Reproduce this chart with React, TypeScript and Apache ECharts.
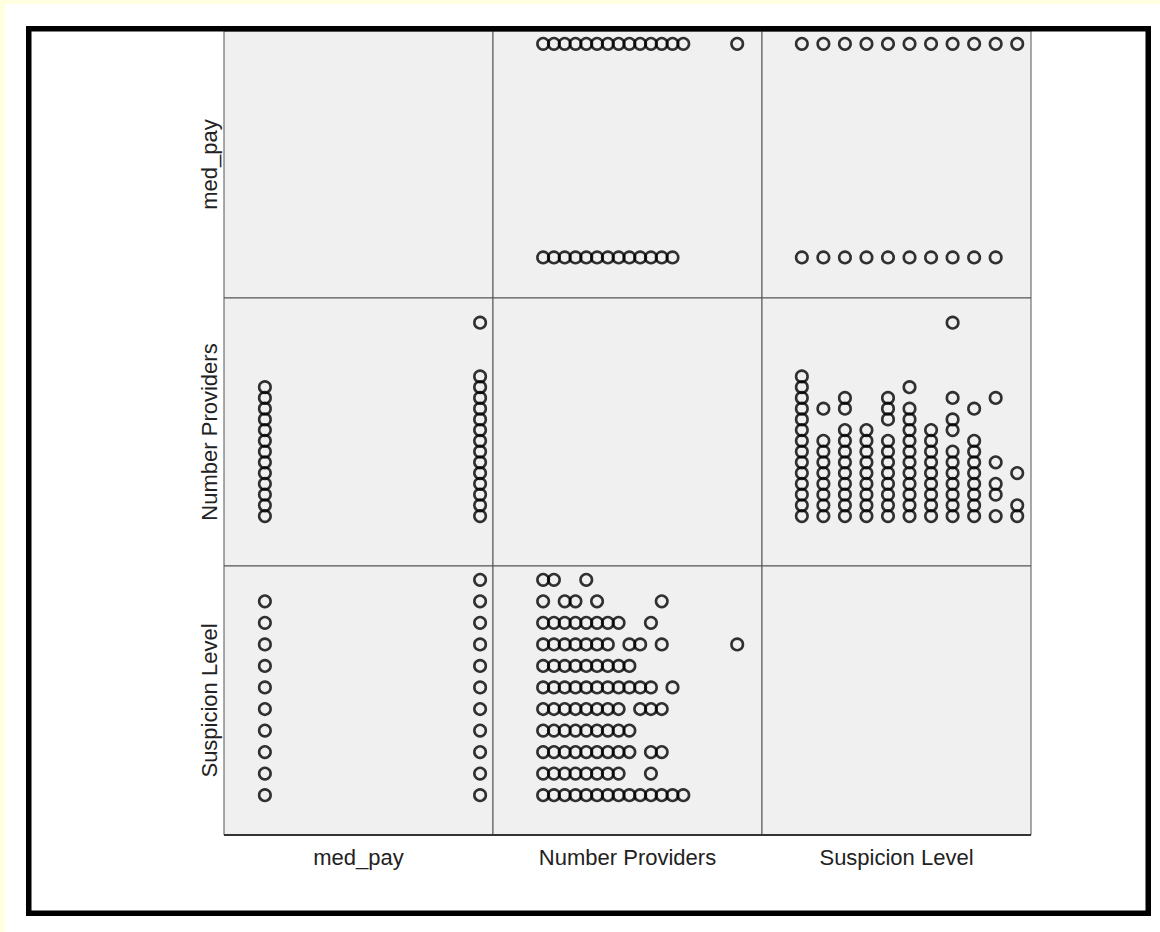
import React, { useEffect, useRef } from "react";
import * as echarts from "echarts";

// ---- Data (unique observed value combinations read from the matrix) ----
const variableNames = ["med_pay", "Number Providers", "Suspicion Level"];

const medPayLevels = [0, 1];
const providersMedPay0 = [1, 2, 3, 4, 5, 6, 7, 8, 9, 10, 11, 12, 13];
const providersMedPay1 = [1, 2, 3, 4, 5, 6, 7, 8, 9, 10, 11, 12, 13, 14, 19];
const suspicionMedPay0 = [0, 1, 2, 3, 4, 5, 6, 7, 8, 9];
const suspicionMedPay1 = [0, 1, 2, 3, 4, 5, 6, 7, 8, 9, 10];

const suspicionLevels = [0, 1, 2, 3, 4, 5, 6, 7, 8, 9, 10];
const providersBySuspicion = [
  [1, 2, 3, 4, 5, 6, 7, 8, 9, 10, 11, 12, 13, 14],
  [1, 2, 3, 4, 5, 6, 7, 8, 11],
  [1, 2, 3, 4, 5, 6, 7, 8, 9, 11, 12],
  [1, 2, 3, 4, 5, 6, 7, 8, 9],
  [1, 2, 3, 4, 5, 6, 7, 8, 10, 11, 12],
  [1, 2, 3, 4, 5, 6, 7, 8, 9, 10, 11, 13],
  [1, 2, 3, 4, 5, 6, 7, 8, 9],
  [1, 2, 3, 4, 5, 6, 7, 9, 10, 12, 19],
  [1, 2, 3, 4, 5, 6, 7, 8, 11],
  [1, 3, 4, 6, 12],
  [1, 2, 5],
];

// ---- Pairs built from the arrays ----
const providersByMedPay = [providersMedPay0, providersMedPay1];
const suspicionByMedPay = [suspicionMedPay0, suspicionMedPay1];

const pairsMedPayProviders: number[][] = [];
medPayLevels.forEach((m, i) => providersByMedPay[i].forEach((p) => pairsMedPayProviders.push([m, p])));
const pairsMedPaySuspicion: number[][] = [];
medPayLevels.forEach((m, i) => suspicionByMedPay[i].forEach((s) => pairsMedPaySuspicion.push([m, s])));
const pairsSuspicionProviders: number[][] = [];
suspicionLevels.forEach((s, i) => providersBySuspicion[i].forEach((p) => pairsSuspicionProviders.push([s, p])));

function getPairs(xVar: number, yVar: number): number[][] {
  const swap = (arr: number[][]) => arr.map((d) => [d[1], d[0]]);
  if (xVar === 0 && yVar === 1) return pairsMedPayProviders;
  if (xVar === 1 && yVar === 0) return swap(pairsMedPayProviders);
  if (xVar === 0 && yVar === 2) return pairsMedPaySuspicion;
  if (xVar === 2 && yVar === 0) return swap(pairsMedPaySuspicion);
  if (xVar === 2 && yVar === 1) return pairsSuspicionProviders;
  if (xVar === 1 && yVar === 2) return swap(pairsSuspicionProviders);
  return [];
}

// axis ranges per variable (for positioning)
const axisRanges = [
  { min: -0.19, max: 1.06 },
  { min: -3.65, max: 21.3 },
  { min: -1.85, max: 10.64 },
];

// ---- Layout ----
const colLefts = [224, 493, 762];
const colWidth = 269;
const rowTops = [31, 298, 566];
const rowHeights = [267, 268, 269];
const labelFont = '22px "Liberation Sans", Arial, sans-serif';

function buildOption() {
  const grid: any[] = [];
  const xAxis: any[] = [];
  const yAxis: any[] = [];
  const series: any[] = [];
  for (let r = 0; r < 3; r++) {
    for (let c = 0; c < 3; c++) {
      const idx = r * 3 + c;
      grid.push({
        left: colLefts[c],
        top: rowTops[r],
        width: colWidth,
        height: rowHeights[r],
        show: true,
        backgroundColor: "#f0f0f0",
        borderColor: "#555",
        borderWidth: 1,
      });
      xAxis.push({ type: "value", gridIndex: idx, min: axisRanges[c].min, max: axisRanges[c].max, show: false });
      yAxis.push({ type: "value", gridIndex: idx, min: axisRanges[r].min, max: axisRanges[r].max, show: false });
      if (r !== c) {
        series.push({
          type: "scatter",
          xAxisIndex: idx,
          yAxisIndex: idx,
          data: getPairs(c, r),
          symbol: "circle",
          symbolSize: 11.5,
          silent: true,
          itemStyle: { color: "rgba(0,0,0,0)", borderColor: "#000", borderWidth: 2.6 },
          emphasis: { disabled: true },
        });
      }
    }
  }

  const graphic: any[] = [
    { type: "rect", shape: { x: 0, y: 0, width: 1160, height: 4 }, style: { fill: "#ffffe0" }, z: 1 },
    { type: "rect", shape: { x: 0, y: 0, width: 5, height: 932 }, style: { fill: "#ffffe0" }, z: 1 },
    {
      type: "line",
      shape: { x1: 224, y1: 835, x2: 1031, y2: 835 },
      style: { stroke: "#333", lineWidth: 2 },
      z: 50,
    },
    {
      type: "rect",
      shape: { x: 28.75, y: 28.75, width: 1119.5, height: 884.5 },
      style: { fill: "none", stroke: "#000", lineWidth: 5.5 },
      z: 100,
    },
  ];
  variableNames.forEach((name, i) => {
    graphic.push({
      type: "text",
      x: colLefts[i] + colWidth / 2,
      y: 857,
      style: { text: name, font: labelFont, fill: "#222", align: "center", verticalAlign: "middle" },
      z: 60,
    });
    graphic.push({
      type: "text",
      x: 209,
      y: rowTops[i] + rowHeights[i] / 2,
      rotation: Math.PI / 2,
      style: { text: name, font: labelFont, fill: "#222", align: "center", verticalAlign: "middle" },
      z: 60,
    });
  });

  return {
    animation: false,
    backgroundColor: "#ffffff",
    grid,
    xAxis,
    yAxis,
    series,
    graphic,
  };
}

export default function App() {
  const ref = useRef<HTMLDivElement>(null);
  useEffect(() => {
    document.body.style.margin = "0";
    const chart = echarts.init(ref.current as HTMLDivElement, null, { renderer: "svg" });
    chart.setOption(buildOption() as any);
    return () => chart.dispose();
  }, []);
  return <div ref={ref} style={{ width: 1160, height: 932 }} />;
}
